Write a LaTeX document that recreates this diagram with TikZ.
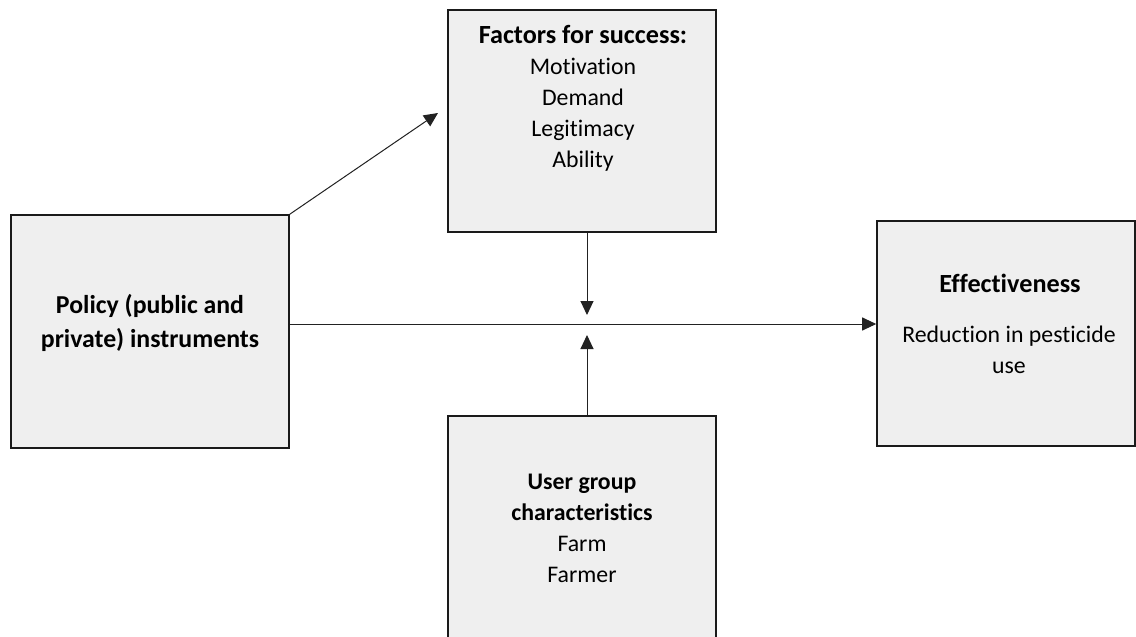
\documentclass[tikz,border=0pt]{standalone}
\usepackage{fontspec}
\setmainfont{Carlito}[Ligatures={NoCommon,NoRequired,NoContextual}]
\usetikzlibrary{arrows.meta}
\definecolor{boxfill}{HTML}{EFEFEF}
\definecolor{edge}{HTML}{1A1A1A}
\definecolor{conn}{HTML}{222222}
\tikzset{
  box/.style={draw=edge, line width=1.6pt, fill=boxfill, inner sep=0pt},
  txt/.style={align=center, font=\fontsize{23.8}{31}\selectfont, inner sep=0pt, text=black},
  conn/.style={draw=conn, line width=1pt, -{Triangle[length=14pt,width=13pt]}}
}
\newcommand{\bigbold}[1]{{\fontsize{26.2}{31}\selectfont\bfseries #1}}
\begin{document}
\begin{tikzpicture}[x=1pt,y=-1pt]
\clip (0,0) rectangle (1136,637);
\fill[white] (0,0) rectangle (1136,637);
% boxes
\node[box, minimum width=278pt, minimum height=233pt] (policy) at (150,331.5) {};
\node[box, minimum width=268pt, minimum height=222pt] (factors) at (582,121) {};
\node[box, minimum width=258pt, minimum height=225pt] (eff) at (1006,333.5) {};
\node[box, minimum width=268pt, minimum height=240pt] (user) at (582,536) {};
% texts
\node[txt, anchor=north] (factorsT) at (583,25) {\bigbold{Factors for success:}\\Motivation\\Demand\\Legitimacy\\Ability};
\node[txt, anchor=center] (userT) at (582,528) {\textbf{User group}\\\textbf{characteristics}\\Farm\\Farmer};
\node[txt, anchor=center, font=\fontsize{25.8}{34}\selectfont\bfseries] (policyT) at (150,323) {Policy (public and\\private) instruments};
\node[txt, anchor=center] (effT) at (1010,283) {\bigbold{Effectiveness}};
\node[txt, anchor=center] (effT2) at (1009,350) {Reduction in pesticide\\use};
% coordinates
\coordinate (mid) at (587,324);
\coordinate (diagEnd) at (438,113);
\coordinate (downTip) at (587,315);
\coordinate (upTip) at (587,335);
% connectors
\draw[conn] (policy.north east) -- (diagEnd);
\draw[conn] (policy.east |- mid) -- (eff.west |- mid);
\draw[conn] (factors.south -| mid) -- (downTip);
\draw[conn] (user.north -| mid) -- (upTip);
\end{tikzpicture}
\end{document}
